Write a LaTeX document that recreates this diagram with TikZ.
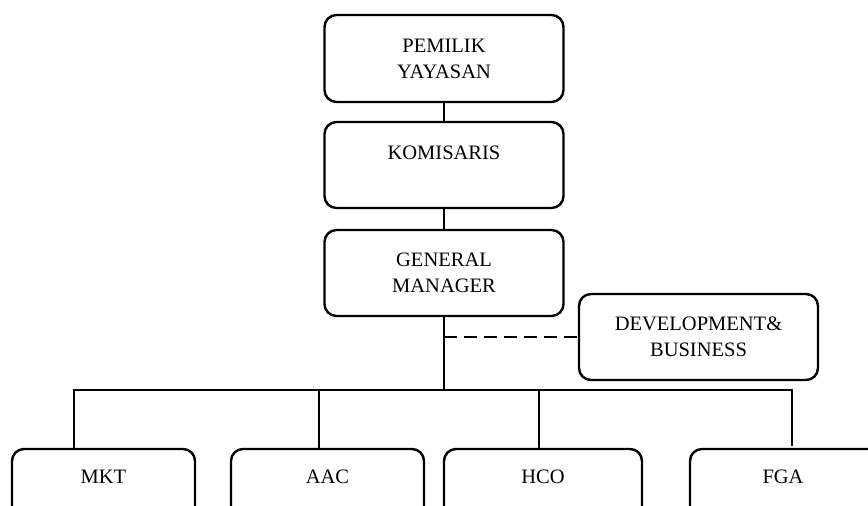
\documentclass[tikz,border=0pt]{standalone}
\usepackage{fontspec}
\setmainfont{Liberation Serif}
\begin{document}
\begin{tikzpicture}[x=1pt,y=-1pt,
  box/.style={draw, line width=2.4pt, rounded corners=12pt, inner sep=0pt,
    font=\fontsize{20.5}{26}\selectfont, align=center},
  lowbox/.style={box, anchor=base, text height=34.5pt, text depth=70pt},
  link/.style={line width=2.2pt},
  dlink/.style={line width=2.2pt, dash pattern=on 13pt off 7pt}]
\useasboundingbox (0,0) rectangle (868,506);
\clip (0,0) rectangle (868,506);
% top chain
\node[box, minimum width=239, minimum height=87] (own) at (444,58.5) {PEMILIK\\YAYASAN};
\node[box, anchor=base, minimum width=239, text height=37.5pt, text depth=48.5pt] (kom) at (444,159.5) {KOMISARIS};
\node[box, minimum width=239, minimum height=86] (gm) at (444,273) {GENERAL\\MANAGER};
\node[box, minimum width=239, minimum height=86] (dev) at (698.5,337) {DEVELOPMENT\&\\BUSINESS};
% bottom boxes
\node[lowbox, minimum width=183] (mkt) at (103.5,483.5) {MKT};
\node[lowbox, minimum width=193] (aac) at (327.5,483.5) {AAC};
\node[lowbox, minimum width=198] (hco) at (543,483.5) {HCO};
\node[lowbox, minimum width=200] (fga) at (790,483.5) {\hspace*{-14pt}FGA};
% connectors
\draw[link] (own.south) -- (kom.north);
\draw[link] (kom.south) -- (gm.north);
\coordinate (bus) at (444,390);
\coordinate (bMKT) at (74,390);
\coordinate (bAAC) at (319,390);
\coordinate (bHCO) at (539,390);
\coordinate (bFGA) at (792,390);
\coordinate (fgaend) at (792,446);
\draw[link] (gm.south) -- (bus);
\draw[dlink] (gm.south |- dev.west) -- (dev.west);
\draw[link] (bMKT |- mkt.north) -- (bMKT) -- (bFGA) -- (fgaend);
\draw[link] (bAAC) -- (bAAC |- aac.north);
\draw[link] (bHCO) -- (bHCO |- hco.north);
\end{tikzpicture}
\end{document}
